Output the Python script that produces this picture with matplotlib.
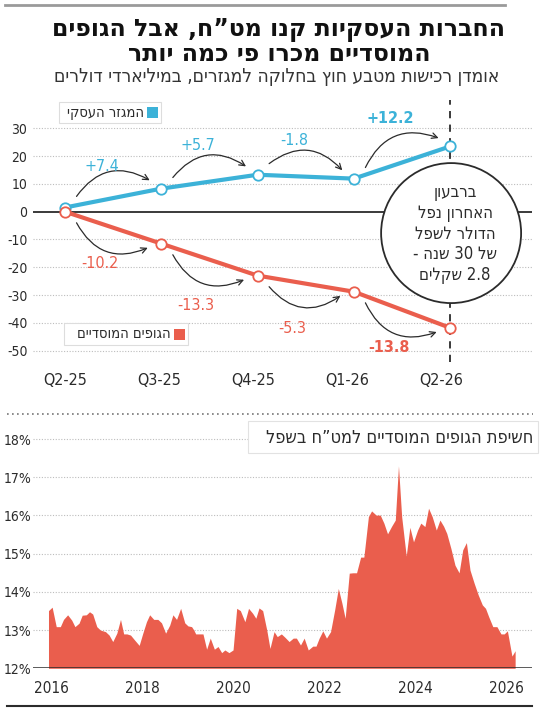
import numpy as np
import matplotlib.pyplot as plt
from matplotlib.patches import Ellipse, Rectangle
from matplotlib.lines import Line2D

# --- top chart: quarterly FX purchases (USD bn, cumulative) ---
quarters = ['Q2-25', 'Q3-25', 'Q4-25', 'Q1-26', 'Q2-26']
business = [1.5, 8.3, 13.3, 11.9, 23.5]
institutional = [0.0, -11.5, -23.0, -28.8, -41.8]
business_chg = ['+7.4', '+5.7', '-1.8', '+12.2']
institutional_chg = ['-10.2', '-13.3', '-5.3', '-13.8']
yticks_top = [30, 20, 10, 0, -10, -20, -30, -40, -50]

# --- bottom chart: institutional FX exposure (%) ---
exp_year = [2015.94, 2016.02, 2016.11, 2016.20, 2016.27, 2016.36, 2016.45, 2016.52, 2016.61,
            2016.68, 2016.77, 2016.84, 2016.91, 2017.00, 2017.08, 2017.19, 2017.27, 2017.35,
            2017.44, 2017.52, 2017.59, 2017.66, 2017.74, 2017.83, 2017.93, 2018.01, 2018.09,
            2018.16, 2018.25, 2018.34, 2018.42, 2018.51, 2018.60, 2018.67, 2018.75, 2018.84,
            2018.93, 2019.00, 2019.08, 2019.13, 2019.17, 2019.33, 2019.41, 2019.49, 2019.58,
            2019.66, 2019.74, 2019.81, 2019.90, 2019.99, 2020.07, 2020.15, 2020.25, 2020.33,
            2020.42, 2020.49, 2020.56, 2020.64, 2020.73, 2020.80, 2020.89, 2020.96, 2021.05,
            2021.13, 2021.22, 2021.31, 2021.38, 2021.47, 2021.55, 2021.64, 2021.74, 2021.81,
            2021.88, 2021.96, 2022.04, 2022.13, 2022.22, 2022.30, 2022.38, 2022.45, 2022.54,
            2022.62, 2022.70, 2022.79, 2022.86, 2022.96, 2023.03, 2023.13, 2023.22, 2023.30,
            2023.38, 2023.47, 2023.55, 2023.62, 2023.69, 2023.79, 2023.87, 2023.95, 2024.04,
            2024.11, 2024.20, 2024.28, 2024.36, 2024.45, 2024.53, 2024.61, 2024.68, 2024.77,
            2024.86, 2024.95, 2025.03, 2025.11, 2025.19, 2025.28, 2025.37, 2025.46, 2025.53,
            2025.60, 2025.69, 2025.78, 2025.87, 2025.94, 2026.01, 2026.11, 2026.18]
exp_pct = [13.51, 13.60, 13.09, 13.09, 13.28, 13.40, 13.26, 13.09, 13.18,
           13.39, 13.40, 13.48, 13.42, 13.09, 13.00, 12.96, 12.87, 12.70,
           12.92, 13.28, 12.90, 12.90, 12.87, 12.74, 12.60, 12.92, 13.22,
           13.40, 13.28, 13.28, 13.19, 12.92, 13.13, 13.40, 13.28, 13.57,
           13.19, 13.11, 13.09, 13.00, 12.90, 12.90, 12.50, 12.79, 12.50,
           12.57, 12.41, 12.48, 12.41, 12.48, 13.57, 13.51, 13.22, 13.57,
           13.44, 13.31, 13.58, 13.51, 13.00, 12.52, 12.96, 12.83, 12.90,
           12.81, 12.70, 12.79, 12.79, 12.61, 12.79, 12.48, 12.58, 12.58,
           12.79, 12.98, 12.79, 12.96, 13.53, 14.09, 13.70, 13.31, 14.49,
           14.50, 14.50, 14.91, 14.91, 15.97, 16.12, 16.01, 16.01, 15.80,
           15.52, 15.72, 15.88, 17.30, 15.97, 14.94, 15.69, 15.31, 15.62,
           15.80, 15.71, 16.19, 15.97, 15.62, 15.88, 15.72, 15.53, 15.14,
           14.70, 14.50, 15.10, 15.29, 14.57, 14.23, 13.92, 13.66, 13.57,
           13.35, 13.09, 13.09, 12.90, 12.90, 12.98, 12.32, 12.46]
years_lab = [2016, 2018, 2020, 2022, 2024, 2026]
pct_ticks = [12, 13, 14, 15, 16, 17, 18]

BLUE = '#3cb2d8'
RED = '#ea5e4d'
DARK = '#2b2b2b'
GRID = '#bdbdbd'

plt.rcParams['font.family'] = ['DejaVu Sans']
plt.rcParams['font.stretch'] = 'condensed'


def rtl(s):
    # matplotlib draws left to right, so lay Hebrew out in visual order
    out = []
    for w in reversed(s.split(' ')):
        if any('\u0590' <= c <= '\u05ff' for c in w):
            out.append(w[::-1])
        else:
            out.append(w)
    return ' '.join(out)


W, H = 550, 709
fig = plt.figure(figsize=(W / 100, H / 100), dpi=100)


def fx(px):
    return px / W


def fy(py):
    return 1 - py / H


# header
fig.add_artist(Line2D([fx(5), fx(505)], [fy(5), fy(5)], color='#9a9a9a', lw=2))
fig.text(fx(279), fy(30), rtl('החברות העסקיות קנו מט”ח, אבל הגופים'), ha='center', va='center',
         fontsize=17, fontweight='bold', fontstretch='normal', color='#111111')
fig.text(fx(279), fy(54), rtl('המוסדיים מכרו פי כמה יותר'), ha='center', va='center',
         fontsize=17, fontweight='bold', fontstretch='normal', color='#111111')
fig.text(fx(277), fy(77), rtl('אומדן רכישות מטבע חוץ בחלוקה למגזרים, במיליארדי דולרים'),
         ha='center', va='center', fontsize=13.8, color='#333333')

# ---------------- top chart ----------------
ax = fig.add_axes([fx(33), fy(362), (532 - 33) / W, (362 - 100) / H])
x = np.arange(len(quarters))
ax.set_xlim(-0.332, 4.85)
ax.set_ylim(-54.1, 40.2)
for s in ax.spines.values():
    s.set_visible(False)
for v in yticks_top:
    if v != 0:
        ax.axhline(v, color=GRID, lw=0.8, ls=(0, (1, 1.5)), zorder=0)
ax.axhline(0, color=DARK, lw=1.3, zorder=1)
ax.axvline(4, color=DARK, lw=1.3, ls=(0, (4, 3.5)), zorder=1)

ax.plot(x, business, color=BLUE, lw=3, zorder=3, solid_capstyle='round')
ax.plot(x, institutional, color=RED, lw=3, zorder=3, solid_capstyle='round')
ax.plot(x, business, 'o', ms=7.5, mfc='white', mec=BLUE, mew=1.3, zorder=4)
ax.plot(x, institutional, 'o', ms=7.5, mfc='white', mec=RED, mew=1.3, zorder=4)

ax.set_yticks(yticks_top)
ax.set_yticklabels([str(v) for v in yticks_top], fontsize=10, color=DARK)
ax.set_xticks(x * 0.978)
ax.set_xticklabels(quarters, fontsize=11.5, color=DARK)
ax.tick_params(length=0)
ax.tick_params(axis='y', pad=4)
ax.tick_params(axis='x', pad=8)

arrow = dict(arrowstyle='->', color=DARK, lw=0.9, shrinkA=0, shrinkB=0)
blue_lab_y = [16.4, 24.0, 25.8, 33.7]
red_lab_y = [-18.5, -33.6, -42.2, -49.0]
for i in range(4):
    ax.annotate('', xy=(i + 0.88, business[i + 1] + 3), xytext=(i + 0.12, business[i] + 4),
                arrowprops=dict(arrow, connectionstyle='arc3,rad=-0.45'), zorder=2)
    ax.annotate('', xy=(i + 0.86, institutional[i + 1] - 1.5), xytext=(i + 0.12, institutional[i] - 4),
                arrowprops=dict(arrow, connectionstyle='arc3,rad=0.45'), zorder=2)
    last = i == 3
    ax.text(i + 0.38, blue_lab_y[i], business_chg[i], color=BLUE,
            ha='center', va='center', fontsize=11.5, fontweight='bold' if last else 'normal')
    ax.text(i + 0.36, red_lab_y[i], institutional_chg[i], color=RED,
            ha='center', va='center', fontsize=11.5, fontweight='bold' if last else 'normal')

# legends
for (bx, by, bw, bh, label, col) in [(59, 102, 102, 21, 'המגזר העסקי', BLUE),
                                     (64, 323, 124, 22, 'הגופים המוסדיים', RED)]:
    fig.add_artist(Rectangle((fx(bx), fy(by + bh)), bw / W, bh / H, transform=fig.transFigure,
                             fc='white', ec='#dddddd', lw=0.8, zorder=5))
    fig.add_artist(Rectangle((fx(bx + bw - 14), fy(by + bh / 2 + 5.5)), 11 / W, 11 / H,
                             transform=fig.transFigure, fc=col, ec='none', zorder=6))
    fig.text(fx(bx + bw - 17), fy(by + bh / 2), rtl(label), ha='right', va='center',
             fontsize=10.5, color=DARK, zorder=6)

# callout circle
cx, cy = fig.transFigure.inverted().transform(ax.transData.transform((4.01, -7.7)))
fig.add_artist(Ellipse((cx, cy), 140 / W, 140 / H, transform=fig.transFigure,
                       fc='white', ec=DARK, lw=1.3, zorder=5))
for k, line in enumerate(['ברבעון', 'האחרון נפל', 'הדולר לשפל', 'של 30 שנה -', '2.8 שקלים']):
    fig.text(fx(455), fy(192 + k * 20.8), rtl(line), ha='center', va='center',
             fontsize=12, color=DARK, zorder=6)

# separators
fig.add_artist(Line2D([fx(7), fx(533)], [fy(414), fy(414)], color='#777777', lw=1.2,
                      ls=(0, (1, 2))))
fig.add_artist(Line2D([fx(7), fx(532)], [fy(706), fy(706)], color=DARK, lw=1.5))

# ---------------- bottom chart ----------------
ax2 = fig.add_axes([fx(33), fy(668.3), (532 - 33) / W, (668.3 - 425.7) / H])
ax2.set_xlim(2015.6, 2026.55)
ax2.set_ylim(12, 18.35)
for s in ax2.spines.values():
    s.set_visible(False)
for v in pct_ticks[1:]:
    ax2.axhline(v, color=GRID, lw=0.8, ls=(0, (1, 1.5)), zorder=0)
ax2.fill_between(exp_year, 12, exp_pct, color=RED, lw=0, zorder=2)
ax2.axhline(12, color=DARK, lw=1.8, zorder=3)
ax2.set_yticks(pct_ticks)
ax2.set_yticklabels([f'{v}%' for v in pct_ticks], fontsize=10, color=DARK)
ax2.set_xticks(years_lab)
ax2.set_xticklabels([str(v) for v in years_lab], fontsize=11, color=DARK)
ax2.tick_params(length=0)
ax2.tick_params(axis='y', pad=1)
ax2.tick_params(axis='x', pad=9)

fig.add_artist(Rectangle((fx(248), fy(453)), 290 / W, 32 / H, transform=fig.transFigure,
                         fc='white', ec='#e2e2e2', lw=0.8, zorder=5))
fig.text(fx(533), fy(438), rtl('חשיפת הגופים המוסדיים למט”ח בשפל'), ha='right', va='center',
         fontsize=13, color=DARK, zorder=6)

fig.savefig('out.png', dpi=100)
